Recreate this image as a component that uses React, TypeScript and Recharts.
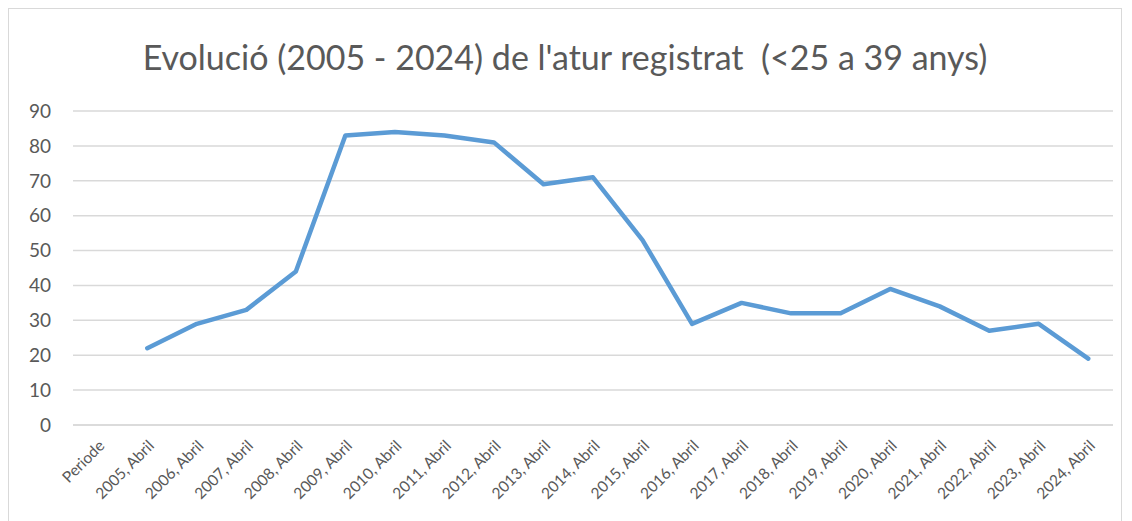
import { LineChart, Line, XAxis, YAxis, CartesianGrid } from 'recharts';

const categories = [
  'Periode', '2005, Abril', '2006, Abril', '2007, Abril', '2008, Abril', '2009, Abril',
  '2010, Abril', '2011, Abril', '2012, Abril', '2013, Abril', '2014, Abril', '2015, Abril',
  '2016, Abril', '2017, Abril', '2018, Abril', '2019, Abril', '2020, Abril', '2021, Abril',
  '2022, Abril', '2023, Abril', '2024, Abril',
];

const atur: (number | null)[] = [
  null, 22, 29, 33, 44, 83, 84, 83, 81, 69, 71, 53, 29, 35, 32, 32, 39, 34, 27, 29, 19,
];

const yTicks = [0, 10, 20, 30, 40, 50, 60, 70, 80, 90];

const data = categories.map((periode, i) => ({ periode, atur: atur[i] }));

const FONT = 'Lato, "Open Sans", sans-serif';
const GREY = '#595959';

export default function App() {
  return (
    <div
      style={{
        position: 'relative',
        width: 1114,
        height: 514,
        border: '1px solid #d9d9d9',
        boxSizing: 'border-box',
        fontFamily: FONT,
        background: '#fff',
      }}
    >
      <div
        style={{
          position: 'absolute',
          top: 27,
          left: 0,
          width: '100%',
          textAlign: 'center',
          fontSize: 34,
          color: GREY,
          whiteSpace: 'pre',
        }}
      >
        {"Evolució (2005 - 2024) de l'atur registrat  (<25 a 39 anys)"}
      </div>
      <LineChart
        width={1112}
        height={512}
        data={data}
        margin={{ top: 102, right: 8, left: 0, bottom: 0 }}
      >
        <CartesianGrid vertical={false} stroke="#d9d9d9" strokeWidth={1.5} />
        <XAxis
          dataKey="periode"
          scale="band"
          interval={0}
          height={96}
          axisLine={{ stroke: '#d9d9d9', strokeWidth: 1.5 }}
          tickLine={false}
          angle={-45}
          textAnchor="end"
          tickMargin={8}
          tick={{ fill: GREY, fontSize: 15.5, fontFamily: FONT }}
        />
        <YAxis
          domain={[0, 90]}
          ticks={yTicks}
          width={64}
          axisLine={false}
          tickLine={false}
          tickSize={0}
          tickMargin={22}
          tick={{ fill: GREY, fontSize: 19, fontFamily: FONT }}
        />
        <Line
          type="linear"
          dataKey="atur"
          stroke="#5B9BD5"
          strokeWidth={4.5}
          strokeLinecap="round"
          strokeLinejoin="round"
          dot={false}
          activeDot={false}
          isAnimationActive={false}
        />
      </LineChart>
    </div>
  );
}
